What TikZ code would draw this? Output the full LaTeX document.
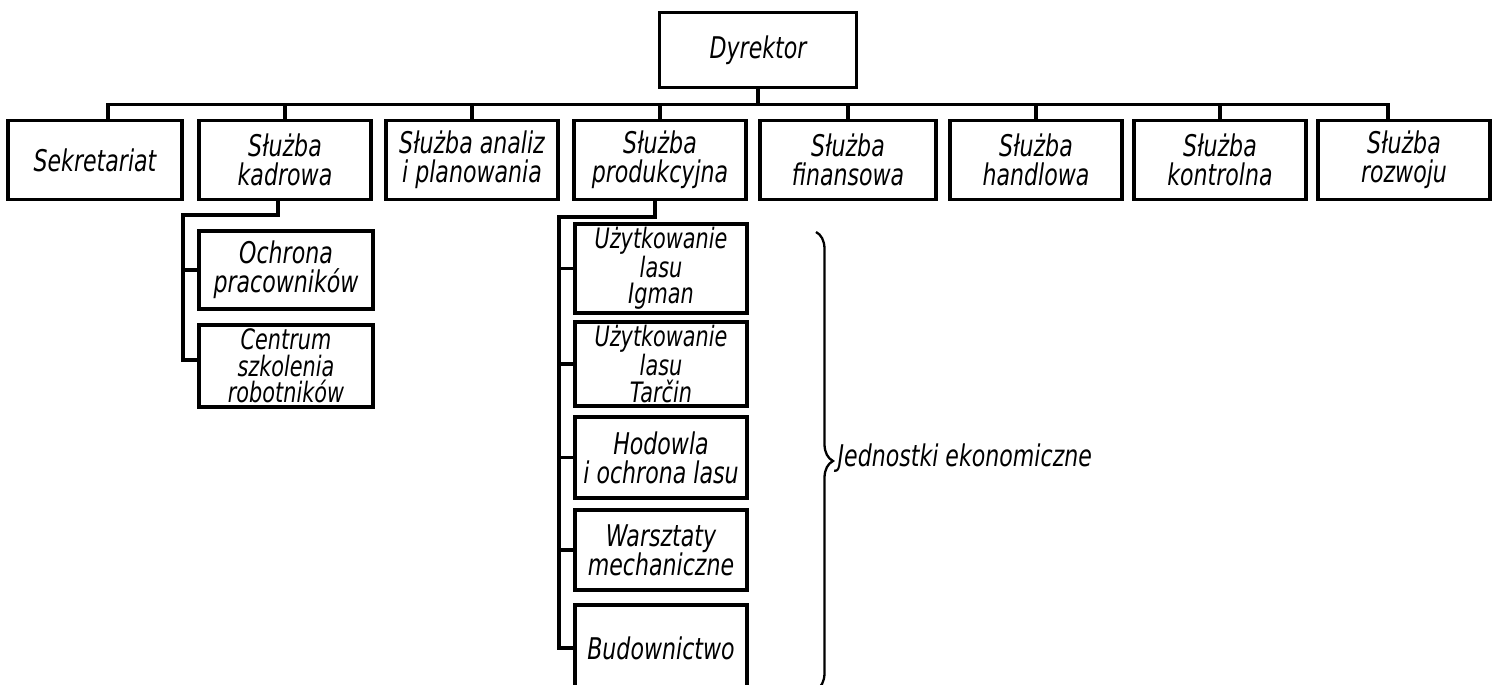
\documentclass[tikz,border=0pt]{standalone}
\usepackage{fontspec}
\setmainfont{DejaVu Sans}[FakeStretch=0.74]
\usetikzlibrary{decorations.pathreplacing}

\begin{document}
\begin{tikzpicture}[x=0.02cm, y=-0.02cm, line width=1.9pt,
    pole/.style={draw, line width=2.2pt, minimum width=3.44cm, minimum height=1.58cm,
      inner sep=0.5pt, align=center, font=\fontsize{17}{16.5}\selectfont\itshape},
    gesto/.style={inner sep=2pt, font=\fontsize{16}{15}\selectfont\itshape}]
\useasboundingbox (0,0) rectangle (1502,685);
\clip (0,0) rectangle (1502,685);
% dyrektor i sluzby
\node[pole, minimum width=3.94cm, minimum height=1.5cm] (dyr) at (758,50) {Dyrektor};
\node[pole, minimum width=3.48cm] (sek) at (95,160) {Sekretariat};
\node[pole] (kad) at (285,160) {Służba\\kadrowa};
\node[pole] (ana) at (472,160) {Służba analiz\\i planowania};
\node[pole] (pro) at (660,160) {Służba\\produkcyjna};
\node[pole, minimum width=3.52cm] (fin) at (848,160) {Służba\\finansowa};
\node[pole] (han) at (1036,160) {Służba\\handlowa};
\node[pole] (kon) at (1220,160) {Służba\\kontrolna};
\node[pole] (roz) at (1404,160) {Służba\\rozwoju};
\coordinate (bus) at ([yshift=-0.3cm]dyr.south);
\draw (dyr.south) -- (bus);
\draw ([xshift=0.26cm]sek.north) |- (bus) -| ([xshift=-0.32cm]roz.north);
\foreach \n in {kad,ana,pro,fin,han,kon}
  \draw (\n.north) |- (bus);
% sluzba kadrowa
\node[pole, minimum width=3.48cm, minimum height=1.56cm] (och) at (286,270) {Ochrona\\pracowników};
\node[pole, gesto, minimum width=3.48cm, minimum height=1.64cm] (cen) at (286,366) {Centrum\\szkolenia\\robotników};
\coordinate (kk) at (183,215);
\draw ([xshift=-0.14cm]kad.south) |- (kk) |- ([yshift=0.12cm]cen.west);
\draw (kk |- och.west) -- (och.west);
% sluzba produkcyjna
\node[pole, gesto, minimum height=1.58cm] (ui) at (661,268.5) {Użytkowanie\\lasu\\Igman};
\node[pole, gesto, minimum height=1.64cm] (ut) at (661,364) {Użytkowanie\\lasu\\Tarčin};
\node[pole, minimum height=1.62cm] (hod) at (661,457.5) {Hodowla\\i ochrona lasu};
\node[pole, minimum height=1.6cm] (war) at (661,550) {Warsztaty\\mechaniczne};
\node[pole, minimum height=1.72cm] (bud) at (661,648) {Budownictwo};
\coordinate (pp) at (559,217);
\draw ([xshift=-0.1cm]pro.south) |- (pp) |- (bud.west);
\foreach \n in {ui,ut,hod,war}
  \draw (pp |- \n.west) -- (\n.west);
% klamra
\coordinate (kg) at (816,232);
\coordinate (kd) at (816,690);
\draw[line width=1.3pt, decorate, decoration={brace, amplitude=0.34cm}] (kg) -- (kd);
\node[right, inner sep=0pt, font=\fontsize{17}{16}\selectfont\itshape] (jed) at (836,458) {Jednostki ekonomiczne};
\end{tikzpicture}
\end{document}
